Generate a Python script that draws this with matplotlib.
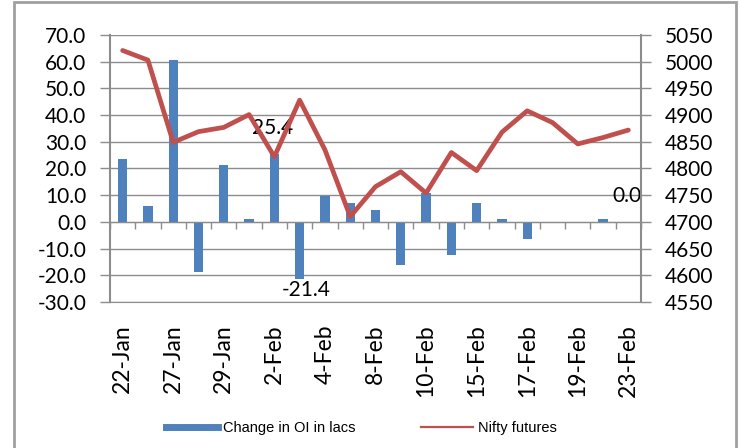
import numpy as np
import matplotlib.pyplot as plt
from matplotlib.patches import Rectangle
from matplotlib.lines import Line2D

## Data
dates = ['22-Jan', '25-Jan', '27-Jan', '28-Jan', '29-Jan', '1-Feb', '2-Feb',
         '3-Feb', '4-Feb', '5-Feb', '8-Feb', '9-Feb', '10-Feb', '11-Feb',
         '15-Feb', '16-Feb', '17-Feb', '18-Feb', '19-Feb', '22-Feb', '23-Feb']
oi_change = [23.4, 6.1, 60.5, -18.7, 21.4, 1.1, 25.4, -21.4, 9.6, 7.0, 4.3,
             -16.2, 11.0, -12.5, 7.0, 1.1, -6.4, -0.5, 0.0, 1.1, 0.0]
nifty = [5021, 5003, 4849, 4869, 4877, 4901, 4822, 4928, 4835, 4710, 4766,
         4794, 4754, 4830, 4796, 4868, 4908, 4886, 4846, 4858, 4872]
labelled = {6: '25.4', 7: '-21.4', 20: '0.0'}  # bars that carry a data label

blue = '#4F81BD'
red = '#C0504D'
grid_col = '#8C8C8C'
font = ['Lato', 'DejaVu Sans']
legend_font = ['Liberation Sans', 'DejaVu Sans']

fig = plt.figure(figsize=(7.41, 4.48), dpi=100)
ax = fig.add_axes([110 / 741, 1 - 302 / 448, 531 / 741, 267 / 448])
ax2 = ax.twinx()

x = np.arange(len(dates))

## bars on the left axis
ax.bar(x, oi_change, width=0.37, color=blue, zorder=2)
ax.set_xlim(-0.5, len(dates) - 0.5)
ax.set_ylim(-30, 70)
ax.set_yticks(np.arange(-30, 71, 10))
ax.set_yticklabels([f'{v:.1f}' for v in np.arange(-30, 71, 10)], fontsize=15, family=font)
ax.grid(axis='y', color=grid_col, lw=1, zorder=0)
ax.tick_params(axis='y', length=7, width=1, color=grid_col, pad=10)

## x axis sits on the zero line, tick marks at category boundaries
ax.spines['bottom'].set_position(('data', 0))
ax.spines['bottom'].set_color(grid_col)
ax.set_xticks(np.arange(-0.5, len(dates), 1))
ax.set_xticklabels([])
ax.tick_params(axis='x', length=5, width=1, color=grid_col, direction='out')
ax.spines['top'].set_visible(False)
ax.spines['left'].set_color(grid_col)
ax.spines['left'].set_linewidth(1.5)
ax.spines['right'].set_visible(False)

## date labels below the plot
sec = ax.secondary_xaxis(0)
sec.set_xticks(x[::2])
sec.set_xticklabels(dates[::2], rotation=90, fontsize=16.5, family=font)
sec.tick_params(length=0, pad=16)
sec.spines['bottom'].set_color(grid_col)

for i, txt in labelled.items():
    v = oi_change[i]
    off = -8 if v < 0 else 19
    ax.annotate(txt, (x[i], v), xytext=(5 if v < 0 else -1, off), textcoords='offset points',
                ha='center', va='center', fontsize=15, family=font, zorder=5)

## line on the right axis
ax2.plot(x, nifty, color=red, lw=3.4, zorder=3, solid_capstyle='round')
ax2.set_ylim(4550, 5050)
ax2.set_yticks(np.arange(4550, 5051, 50))
ax2.set_yticklabels([str(v) for v in np.arange(4550, 5051, 50)], fontsize=15, family=font)
ax2.tick_params(axis='y', length=7, width=1, color=grid_col, pad=10)
for s in ['top', 'left', 'bottom']:
    ax2.spines[s].set_visible(False)
ax2.spines['right'].set_color(grid_col)
ax2.spines['right'].set_linewidth(1.5)

## legend
handles = [Line2D([0], [0], color=blue, lw=5), Line2D([0], [0], color=red, lw=1.6)]
fig.legend(handles, ['Change in OI in lacs', 'Nifty futures'], loc='center',
           bbox_to_anchor=(361 / 741, 1 - 428 / 448), ncol=2, frameon=False,
           handlelength=3.6, handletextpad=0.3, columnspacing=4.5,
           prop={'family': legend_font, 'size': 10.5})

## outer chart frame
fig.patches.append(Rectangle((14 / 741, -0.05), 722 / 741, 1.05 - 2 / 448,
                             transform=fig.transFigure, fill=False,
                             edgecolor='#A0A0A0', lw=2))

fig.savefig('out.png', dpi=100)
